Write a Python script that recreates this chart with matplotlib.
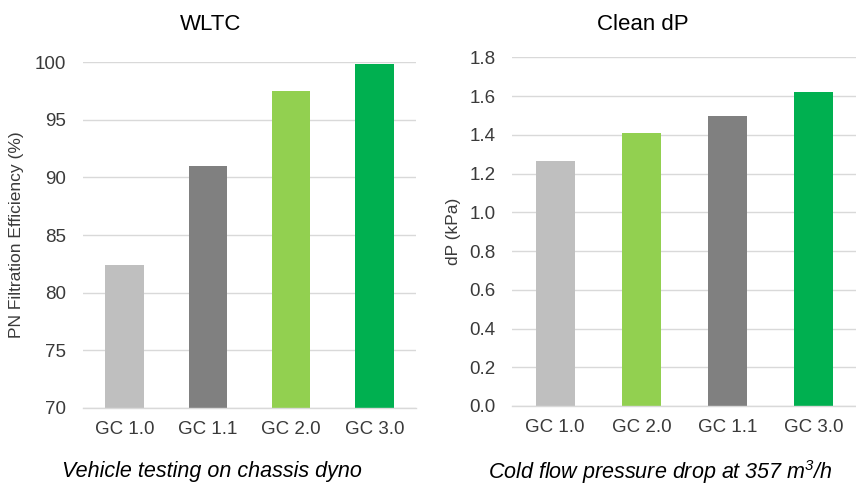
import matplotlib
matplotlib.use("Agg")
import matplotlib.pyplot as plt

plt.rcParams['font.family'] = ['Liberation Sans', 'DejaVu Sans']
plt.rcParams['mathtext.fontset'] = 'custom'
plt.rcParams['mathtext.rm'] = 'Liberation Sans:italic'
plt.rcParams['mathtext.it'] = 'Liberation Sans:italic'

# Left chart data
wltc_categories = ["GC 1.0", "GC 1.1", "GC 2.0", "GC 3.0"]
wltc_values = [82.4, 91.0, 97.45, 99.8]
wltc_ticks = [70, 75, 80, 85, 90, 95, 100]

# Right chart data
dp_categories = ["GC 1.0", "GC 2.0", "GC 1.1", "GC 3.0"]
dp_values = [1.265, 1.408, 1.499, 1.62]
dp_ticks = [0.0, 0.2, 0.4, 0.6, 0.8, 1.0, 1.2, 1.4, 1.6, 1.8]

color_map = {"GC 1.0": "#BFBFBF", "GC 1.1": "#808080",
             "GC 2.0": "#92D050", "GC 3.0": "#00B050"}

W, H = 856, 487
fig = plt.figure(figsize=(W / 100, H / 100), dpi=100)

def px_axes(x0, x1, y0, y1):
    return fig.add_axes([x0 / W, 1 - y1 / H, (x1 - x0) / W, (y1 - y0) / H])

grid_c = "#D9D9D9"
tick_c = "#3A3A3A"

def style(ax, ticks, fmt):
    ax.set_yticks(ticks)
    ax.set_yticklabels([fmt(t) for t in ticks])
    ax.grid(axis='y', color=grid_c, linewidth=1.0)
    ax.set_axisbelow(True)
    for s in ['top', 'right', 'left']:
        ax.spines[s].set_visible(False)
    ax.spines['bottom'].set_color(grid_c)
    ax.spines['bottom'].set_linewidth(1.0)
    ax.tick_params(axis='both', length=0, labelsize=13.5, colors=tick_c)
    ax.tick_params(axis='y', pad=12)
    ax.tick_params(axis='x', pad=9)

# Left
ax1 = px_axes(83, 416, 62, 408)
x1 = list(range(len(wltc_categories)))
ax1.bar(x1, [v - 70 for v in wltc_values], bottom=70, width=0.46,
        color=[color_map[c] for c in wltc_categories])
ax1.set_ylim(70, 100)
ax1.set_xlim(-0.5, len(wltc_categories) - 0.5)
ax1.set_xticks(x1)
ax1.set_xticklabels(wltc_categories)
style(ax1, wltc_ticks, lambda t: f"{t:d}")
ax1.set_ylabel("PN Filtration Efficiency (%)", fontsize=12.5, color=tick_c, labelpad=8)

# Right
ax2 = px_axes(512, 857, 57.3, 406)
x2 = list(range(len(dp_categories)))
ax2.bar(x2, dp_values, width=0.45, color=[color_map[c] for c in dp_categories])
ax2.set_ylim(0, 1.8)
ax2.set_xlim(-0.5, len(dp_categories) - 0.5)
ax2.set_xticks(x2)
ax2.set_xticklabels(dp_categories)
style(ax2, dp_ticks, lambda t: f"{t:.1f}")
ax2.set_ylabel("dP (kPa)", fontsize=12.5, color=tick_c, labelpad=6)

fig.text(211 / W, 1 - 24 / H, "WLTC", fontsize=16, ha='center', va='center')
fig.text(643 / W, 1 - 24 / H, "Clean dP", fontsize=16, ha='center', va='center')

fig.text(212 / W, 1 - 472 / H, "Vehicle testing on chassis dyno",
         fontsize=15.5, style='italic', ha='center', va='center')
fig.text(660 / W, 1 - 472 / H, r"Cold flow pressure drop at 357 m$^{3}$/h",
         fontsize=15.5, style='italic', ha='center', va='center')

fig.savefig("out.png", dpi=100)
